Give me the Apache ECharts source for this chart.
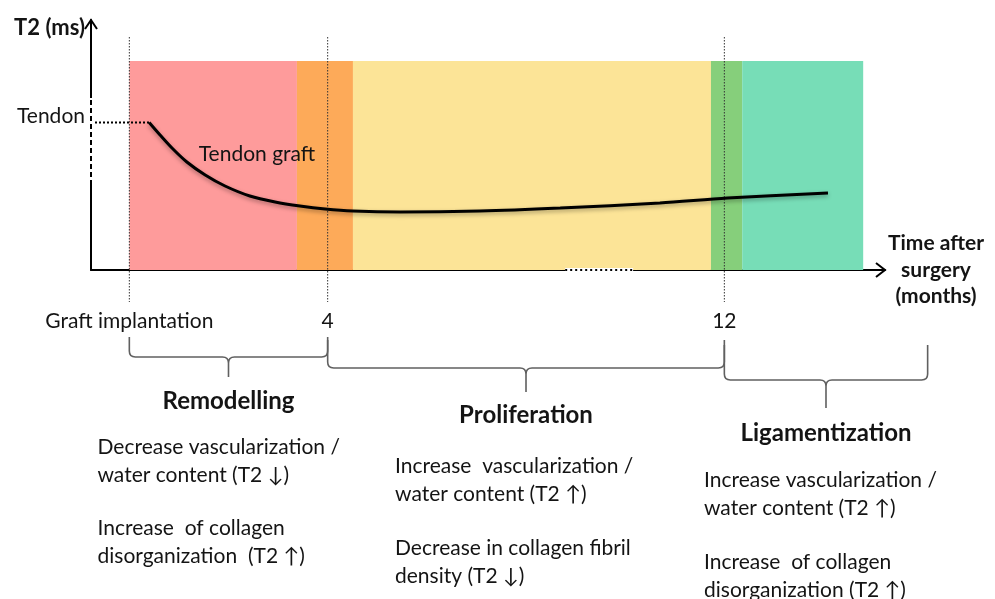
<!DOCTYPE html>
<html>
<head>
<meta charset="utf-8">
<script src="https://cdn.jsdelivr.net/npm/echarts@6/dist/echarts.min.js"></script>
<style>
html,body{margin:0;padding:0;background:#fff;}
#chart{width:995px;height:599px;}
</style>
</head>
<body>
<div id="chart"></div>
<script>
// ---------- data ----------
const xMin = -0.773, xMax = 15.24;           // schematic months along the time axis
const yMin = 0, yMax = 100;                   // schematic T2 scale
const bandStarts = [0, 3.38, 4.51, 11.73, 12.36];
const bandEnds   = [3.38, 4.51, 11.73, 12.36, 14.80];
const bandTop = 83.6;
const curveMonths = [0.40, 0.62, 0.86, 1.16, 1.53, 1.93, 2.43, 2.94, 3.44, 3.95, 4.51, 5.46, 7.07, 8.69, 10.70, 12.06, 14.09];
const curveT2     = [59, 54, 48.8, 43.2, 38, 33.6, 29.6, 27.2, 25.6, 24.4, 23.6, 23.2, 23.6, 24.8, 26.8, 28.8, 30.8];
const tendonLevel = 59;
const tickMonths = [0, 4, 12];
const tickLabels = ['Graft implantation', '4', '12'];
const guideTop = 93.2, guideBottom = -12.8;
const yBreak = [34, 68.8];
const xBreak = [8.79, 10.16];
const braceStart = [0, 4, 12];
const braceEnd   = [4, 12, 16.1];
const phaseNames = ['Remodelling', 'Proliferation', 'Ligamentization'];
const phaseNotes = [
  ['Decrease vascularization /', 'water content (T2 \u2193)', 'Increase  of collagen', 'disorganization  (T2 \u2191)'],
  ['Increase  vascularization /', 'water content (T2 \u2191)', 'Decrease in collagen fibril', 'density (T2 \u2193)'],
  ['Increase vascularization /', 'water content (T2 \u2191)', 'Increase  of collagen', 'disorganization (T2 \u2191)']
];

// ---------- styles ----------
const bandColors = ['#FE9B9B', '#FDAA59', '#FCE497', '#86CF7B', '#77DDB7'];
const FONT = 'Lato, "DejaVu Sans", sans-serif';
const FS = 21;
const TXT = '#141414';
const braceLevels = [[67, 87, 107], [70, 98, 122], [75, 110, 138]]; // px below the time axis
const titleY = [401, 415, 433];
const notesLeftOffset = [-131, -131, -122];
const notesY = [[447, 475, 528, 556], [466, 494, 548, 576], [480, 508, 562, 590]];

const chart = echarts.init(document.getElementById('chart'));

const option = {
  animation: false,
  grid: { left: 91, right: 110, top: 20, bottom: 329 },
  xAxis: {
    type: 'value', min: xMin, max: xMax,
    axisLine: { onZero: false, lineStyle: { color: '#000', width: 2 } },
    axisTick: { show: false },
    splitLine: { show: false },
    axisLabel: {
      customValues: tickMonths,
      formatter: v => tickLabels[tickMonths.indexOf(v)],
      margin: 41, color: TXT, fontFamily: FONT, fontSize: FS
    },
    name: 'Time after\nsurgery\n(months)',
    nameLocation: 'end', nameGap: 51,
    nameTextStyle: { fontFamily: FONT, fontWeight: 'bold', fontSize: FS, color: TXT, align: 'center', verticalAlign: 'middle', lineHeight: 26.5, padding: [3, 0, 0, 0] }
  },
  yAxis: {
    type: 'value', min: yMin, max: yMax,
    axisLine: { show: true, onZero: false, lineStyle: { color: '#000', width: 2 } },
    axisTick: { show: false },
    splitLine: { show: false },
    axisLabel: {
      customValues: [tendonLevel],
      formatter: () => 'Tendon',
      margin: 6, color: TXT, fontFamily: FONT, fontSize: FS,
      verticalAlign: 'bottom', lineHeight: 12
    },
    name: 'T2 (ms)', nameLocation: 'end', nameGap: -8,
    nameTextStyle: { fontFamily: FONT, fontWeight: 'bold', fontSize: 22, color: TXT, align: 'right', verticalAlign: 'middle', padding: [0, 6, 0, 0] }
  },
  series: [
    {
      type: 'custom', silent: true, z: 1,
      data: bandStarts.map((s, i) => [s, bandEnds[i], bandTop]),
      encode: { x: [0, 1], y: 2 },
      renderItem: (params, api) => {
        const p0 = api.coord([api.value(0), api.value(2)]);
        const p1 = api.coord([api.value(1), 0]);
        return { type: 'rect', shape: { x: p0[0], y: p0[1], width: p1[0] - p0[0], height: p1[1] - p0[1] },
                 style: { fill: bandColors[params.dataIndex] } };
      }
    },
    ...tickMonths.map(m => ({
      type: 'line', silent: true, clip: false, z: 3, showSymbol: false,
      data: [[m, guideTop], [m, guideBottom]],
      lineStyle: { color: '#333', width: 1, type: [1.5, 1.5] }
    })),
    {
      type: 'line', silent: true, clip: false, z: 3, showSymbol: false,
      data: [[xMin, tendonLevel], [curveMonths[0], tendonLevel]],
      lineStyle: { color: '#000', width: 2, type: [2, 2] }
    },
    // axis breaks
    { type: 'line', silent: true, clip: false, z: 4, showSymbol: false,
      data: [[xMin, yBreak[0]], [xMin, yBreak[1]]], lineStyle: { color: '#fff', width: 4 } },
    { type: 'line', silent: true, clip: false, z: 5, showSymbol: false,
      data: [[xMin, yBreak[0]], [xMin, yBreak[1]]], lineStyle: { color: '#000', width: 2, type: [5, 3] } },
    { type: 'line', silent: true, clip: false, z: 4, showSymbol: false,
      data: [[xBreak[0], 0], [xBreak[1], 0]], lineStyle: { color: '#fff', width: 4 } },
    { type: 'line', silent: true, clip: false, z: 5, showSymbol: false,
      data: [[xBreak[0], 0], [xBreak[1], 0]], lineStyle: { color: '#000', width: 2, type: [2, 3] } },
    {
      type: 'line', silent: true, z: 6, smooth: 0.3, showSymbol: false,
      data: curveMonths.map((m, i) => [m, curveT2[i]]),
      lineStyle: { color: '#000', width: 3, shadowBlur: 4, shadowColor: 'rgba(0,0,0,0.35)', shadowOffsetY: 2 }
    },
    // phase braces
    {
      type: 'custom', silent: true, clip: false, z: 7,
      data: braceStart.map((s, i) => [s, braceEnd[i], 0]),
      encode: { x: [0, 1], y: 2 },
      renderItem: (params, api) => {
        const i = params.dataIndex;
        const a = api.coord([api.value(0), 0]);
        const b = api.coord([api.value(1), 0]);
        const x1 = a[0], x2 = b[0], xc = (x1 + x2) / 2, base = a[1];
        const y0 = base + braceLevels[i][0], y1 = base + braceLevels[i][1], y2 = base + braceLevels[i][2];
        const r = 6;
        const d = `M${x1} ${y0} L${x1} ${y1 - r} Q${x1} ${y1} ${x1 + r} ${y1} L${xc - r} ${y1} Q${xc} ${y1} ${xc} ${y1 + r} L${xc} ${y2} ` +
                  `M${x2} ${y0} L${x2} ${y1 - r} Q${x2} ${y1} ${x2 - r} ${y1} L${xc + r} ${y1} Q${xc} ${y1} ${xc} ${y1 + r}`;
        return { type: 'path', shape: { pathData: d }, style: { stroke: '#606060', lineWidth: 1.6, fill: 'none' } };
      }
    }
  ]
};
chart.setOption(option);

// ---------- text annotations placed through the axes ----------
const px = m => chart.convertToPixel({ gridIndex: 0 }, [m, 0])[0];
const axisTopPt = chart.convertToPixel({ gridIndex: 0 }, [xMin, yMax]);
const axisEndPt = chart.convertToPixel({ gridIndex: 0 }, [xMax, yMin]);

const g = [];
g.push({ type: 'polyline', z: 10, shape: { points: [[axisTopPt[0] - 6, axisTopPt[1] + 9], [axisTopPt[0], axisTopPt[1]], [axisTopPt[0] + 6, axisTopPt[1] + 9]] },
  style: { stroke: '#000', lineWidth: 2, fill: 'none' } });
g.push({ type: 'polyline', z: 10, shape: { points: [[axisEndPt[0] - 9, axisEndPt[1] - 7], [axisEndPt[0], axisEndPt[1]], [axisEndPt[0] - 9, axisEndPt[1] + 7]] },
  style: { stroke: '#000', lineWidth: 2, fill: 'none' } });

const lblPt = chart.convertToPixel({ gridIndex: 0 }, [1.4, 46.4]);
g.push({ type: 'text', z: 10, x: lblPt[0], y: lblPt[1],
  style: { text: 'Tendon graft', fontFamily: FONT, fontSize: FS, fill: TXT, align: 'left', verticalAlign: 'middle' } });

for (let i = 0; i < braceStart.length; i++) {
  const xc = (px(braceStart[i]) + px(braceEnd[i])) / 2;
  g.push({ type: 'text', z: 10, x: xc, y: titleY[i],
    style: { text: phaseNames[i], fontFamily: FONT, fontWeight: 'bold', fontSize: 24, fill: TXT, align: 'center', verticalAlign: 'middle' } });
  phaseNotes[i].forEach((t, j) => {
    g.push({ type: 'text', z: 10, x: xc + notesLeftOffset[i], y: notesY[i][j],
      style: { text: t, fontFamily: FONT, fontSize: FS, fill: TXT, align: 'left', verticalAlign: 'middle' } });
  });
}
chart.setOption({ graphic: g });
</script>
</body>
</html>
